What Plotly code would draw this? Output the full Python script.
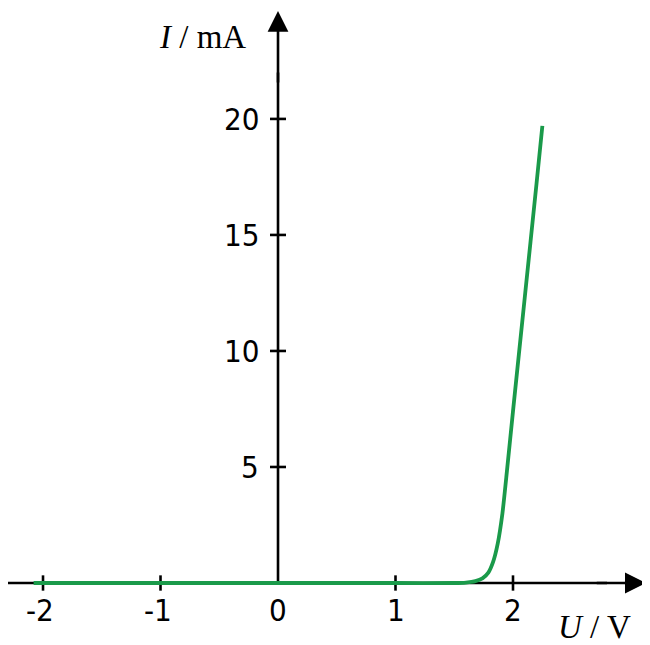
import plotly.graph_objects as go

# Data
U = [-2.08, -1.0, 0.0, 1.0, 1.5, 1.6, 1.68, 1.74, 1.79, 1.83, 1.87, 1.91, 1.95, 2.0, 2.1, 2.2, 2.25]
I = [0.0, 0.0, 0.0, 0.0, 0.0, 0.02, 0.08, 0.2, 0.45, 0.9, 1.7, 3.0, 4.9, 7.4, 12.3, 17.2, 19.7]
x_ticks = [-2, -1, 0, 1, 2]
x_tick_labels = ["-2", "-1", "0", "1", "2"]
y_ticks = [5, 10, 15, 20]
y_tick_labels = ["5", "10", "15", "20"]

W, H = 642, 637
X_RANGE = [-2.298, 3.166]
Y_RANGE = [-2.672, 24.78]
TICK_FONT = dict(family="DejaVu Sans Condensed, Open Sans, sans-serif", size=31, color="black")
TITLE_FONT = dict(family="Liberation Serif, serif", size=33, color="black")
AX = dict(color="black", width=2.6)

fig = go.Figure()
fig.add_trace(go.Scatter(x=U, y=I, mode="lines", line=dict(color="#1a9a4a", width=3.8, shape="spline", smoothing=0.6),
                         hoverinfo="skip", showlegend=False))

shapes = [
    dict(type="line", xref="x", yref="y", x0=X_RANGE[0], x1=2.8, y0=0, y1=0, line=AX, layer="below"),
    dict(type="line", xref="x", yref="y", x0=0, x1=0, y0=0, y1=22, line=AX, layer="below"),
]
# arrow heads
fig.add_annotation(x=3.13, y=0, ax=2.7, ay=0, xref="x", yref="y", axref="x", ayref="y",
                   text="", showarrow=True, arrowhead=2, arrowsize=1.6, arrowwidth=2.6, arrowcolor="black", standoff=0)
fig.add_annotation(x=0, y=24.65, ax=0, ay=21.5, xref="x", yref="y", axref="x", ayref="y",
                   text="", showarrow=True, arrowhead=2, arrowsize=1.6, arrowwidth=2.6, arrowcolor="black", standoff=0)

for t, lab in zip(x_ticks, x_tick_labels):
    if t != 0:
        shapes.append(dict(type="line", xref="x", yref="y", x0=t, x1=t, y0=-0.33, y1=0.33,
                           line=AX, layer="below"))
    fig.add_annotation(x=t, y=0, xref="x", yref="y", text=lab, showarrow=False, yshift=-27,
                       xshift=-3 if t < 0 else 0, font=TICK_FONT)
for t, lab in zip(y_ticks, y_tick_labels):
    shapes.append(dict(type="line", xref="x", yref="y", x0=-0.068, x1=0.068, y0=t, y1=t,
                       line=AX, layer="below"))
    fig.add_annotation(x=0, y=t, xref="x", yref="y", text=lab, showarrow=False, xanchor="right",
                       xshift=-17, font=TICK_FONT)

fig.add_annotation(x=-1.03, y=23.55, xref="x", yref="y", text="<i>I</i> / mA", showarrow=False,
                   xanchor="left", font=TITLE_FONT)
fig.add_annotation(x=2.37, y=-1.9, xref="x", yref="y", text="<i>U</i> / V", showarrow=False,
                   xanchor="left", font=TITLE_FONT)

fig.update_layout(width=W, height=H, margin=dict(l=0, r=0, t=0, b=0),
                  paper_bgcolor="white", plot_bgcolor="white", shapes=shapes,
                  xaxis=dict(range=X_RANGE, visible=False, fixedrange=True),
                  yaxis=dict(range=Y_RANGE, visible=False, fixedrange=True))
fig.write_html("out.html")
